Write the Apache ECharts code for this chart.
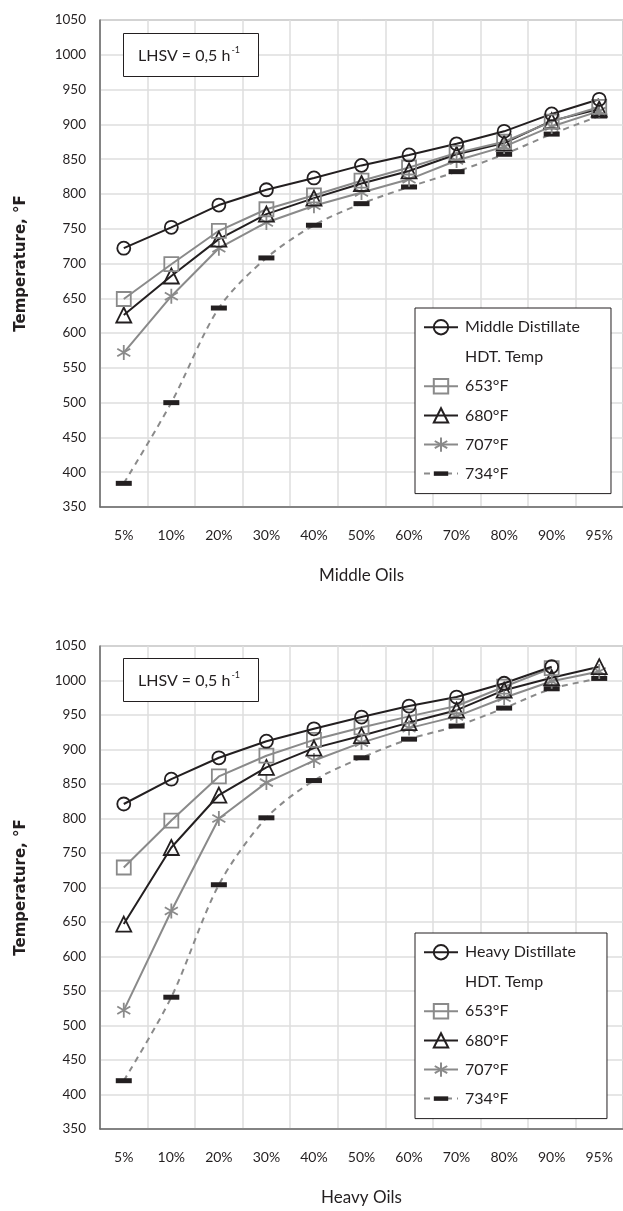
<!DOCTYPE html>
<html>
<head>
<meta charset="utf-8">
<title>HDT temperatures</title>
<script src="https://cdn.jsdelivr.net/npm/echarts@6/dist/echarts.min.js"></script>
<style>
  body { margin: 0; background: #fff; }
  #top { width: 623px; height: 605px; }
  #bottom { width: 623px; height: 606px; }
</style>
</head>
<body>
<div id="top"></div>
<div id="bottom"></div>
<script type="text/javascript">
// distillation cut points
var cuts = ['5%', '10%', '20%', '30%', '40%', '50%', '60%', '70%', '80%', '90%', '95%'];
var yMin = 350, yMax = 1050, yStep = 50;

// middle oils (°F)
var middleDistillate = [722, 752, 784, 806, 823, 841, 856, 872, 890, 915, 936];
var middle653 = [649, 699, 747, 778, 798, 819, 838, 859, 875, 904, 925];
var middle680 = [626, 682, 735, 771, 794, 815, 833, 857, 873, 905, 922];
var middle707 = [572, 653, 722, 759, 783, 802, 821, 848, 868, 897, 919];
var middle734 = [384, 500, 636, 708, 755, 786, 810, 832, 857, 886, 912];

// heavy oils (°F)
var heavyDistillate = [821, 857, 888, 912, 930, 947, 963, 976, 996, 1020, null];
var heavy653 = [729, 797, 861, 891, 914, 932, 948, 963, 991, 1018, null];
var heavy680 = [647, 758, 834, 874, 902, 920, 939, 957, 986, 1004, 1020];
var heavy707 = [522, 666, 800, 852, 884, 910, 931, 948, 975, 999, 1013];
var heavy734 = [420, 541, 704, 801, 855, 888, 915, 934, 960, 988, 1003];

var BLACK = '#231f20';
var GREY = '#8a8a8a';
var FONT = 'Lato';
// square bounding boxes so the legend icon keeps the shape
var starPath = 'path://M0,0 M24,24 M12,0 L12,24 M1.6,6 L22.4,18 M1.6,18 L22.4,6';
var barPath = 'path://M0,0 M32,32 M0,11 L32,11 L32,21 L0,21 Z';

function lineSeries(name, data, color, symbol, size, opts) {
	var s = {
		name: name,
		type: 'line',
		data: data,
		symbol: symbol,
		symbolSize: size,
		symbolKeepAspect: true,
		connectNulls: false,
		lineStyle: { color: color, width: 2 },
		itemStyle: { color: 'rgba(0,0,0,0)', borderColor: color, borderWidth: 1.8 },
		emphasis: { disabled: true },
		z: 3
	};
	if (opts) {
		for (var k in opts) s[k] = opts[k];
	}
	return s;
}

function buildOption(distName, axisName, d, s653, s680, s707, s734, gridTop, boxTop, legendTop) {
	return {
		animation: false,
		backgroundColor: '#fff',
		textStyle: { fontFamily: FONT },
		title: {
			text: '{a|LHSV = 0,5 h}{s|-1}',
			left: 123,
			top: boxTop,
			padding: [13, 19, 13, 15],
			borderColor: BLACK,
			borderWidth: 1,
			backgroundColor: '#fff',
			textStyle: {
				fontWeight: 'normal',
				rich: {
					a: { fontFamily: FONT, fontSize: 16, fontWeight: 'normal', color: BLACK, lineHeight: 19 },
					s: { fontFamily: FONT, fontSize: 9, fontWeight: 'normal', color: BLACK, verticalAlign: 'top', lineHeight: 19, padding: [0, 0, 6, 1] }
				}
			}
		},
		legend: {
			orient: 'vertical',
			left: 415,
			top: legendTop,
			padding: [11, 31, 12, 8],
			itemWidth: 34,
			itemHeight: 18,
			itemGap: 12.8,
			backgroundColor: '#fff',
			borderColor: BLACK,
			borderWidth: 1,
			borderRadius: 0,
			selectedMode: false,
			textStyle: { fontFamily: FONT, fontSize: 16, color: BLACK, padding: [0, 0, 0, 2] },
			data: [distName, { name: 'HDT. Temp', icon: 'none' }, '653°F', '680°F', '707°F', '734°F']
		},
		grid: {
			left: 100,
			top: gridTop,
			height: 487,
			right: -11,
			show: true,
			borderColor: '#6a6a6a',
			borderWidth: 1
		},
		xAxis: {
			type: 'category',
			data: cuts,
			boundaryGap: true,
			name: axisName,
			nameLocation: 'middle',
			nameGap: 60,
			nameTextStyle: { fontFamily: FONT, fontSize: 17, color: BLACK },
			axisLine: { show: true, lineStyle: { color: '#6a6a6a', width: 1.5 } },
			axisTick: { show: false },
			axisLabel: { interval: 0, margin: 21, fontFamily: FONT, fontSize: 14, color: BLACK },
			splitLine: { show: true, interval: 0, lineStyle: { color: '#dedede', width: 1.5 } }
		},
		yAxis: {
			type: 'value',
			min: yMin,
			max: yMax,
			interval: yStep,
			name: 'Temperature, °F',
			nameLocation: 'middle',
			nameGap: 71,
			nameTextStyle: { fontFamily: 'DejaVu Sans', fontSize: 15, color: BLACK, fontWeight: 'bold' },
			axisLine: { show: true, lineStyle: { color: '#6a6a6a', width: 1.5 } },
			axisTick: { show: false },
			axisLabel: {
				margin: 14, fontFamily: FONT, fontSize: 13.5, color: BLACK,
				formatter: function (v) { return String(v); }
			},
			splitLine: { show: true, lineStyle: { color: '#dedede', width: 1.5 } }
		},
		series: [
			lineSeries('HDT. Temp', [], BLACK, 'none', 0, { lineStyle: { width: 0, opacity: 0 } }),
			lineSeries('734°F', s734, GREY, barPath, 16, {
				smooth: 0.3,
				lineStyle: { color: GREY, width: 2, type: [6, 5] },
				itemStyle: { color: BLACK, borderWidth: 0 }
			}),
			lineSeries('707°F', s707, GREY, starPath, 15),
			lineSeries('680°F', s680, BLACK, 'triangle', 15),
			lineSeries('653°F', s653, GREY, 'rect', 14),
			lineSeries(distName, d, BLACK, 'circle', 13)
		]
	};
}

var topChart = echarts.init(document.getElementById('top'));
topChart.setOption(buildOption('Middle Distillate', 'Middle Oils',
	middleDistillate, middle653, middle680, middle707, middle734, 20, 33, 308));

var bottomChart = echarts.init(document.getElementById('bottom'));
bottomChart.setOption(buildOption('Heavy Distillate', 'Heavy Oils',
	heavyDistillate, heavy653, heavy680, heavy707, heavy734, 41, 53, 328));
</script>
</body>
</html>
